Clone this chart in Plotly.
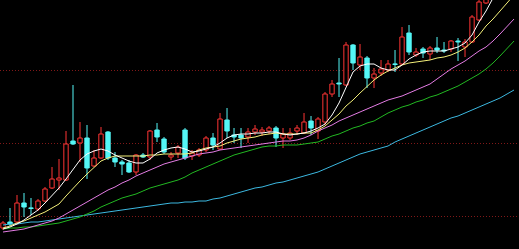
import plotly.graph_objects as go

# ---- candle data (index = trading day) ----
opens  = [21,27,27,46,41,40,48,61,69,69, 108,106,111,83,91,117,91,87,86,77,
          94,92,119,110,92,96,119,93,94,99, 111,100,129,114,114,112,117,117,118,121,
          111,111,118,116,128,118,127,155,166,164, 204,184,191,171,176,179,185,185,216,194,
          200,195,201,199,200,208,202,207,229,246, 262,277,292,286]
highs  = [28,41,54,56,51,50,62,82,90,118, 164,127,124,99,122,118,97,89,89,95,
          96,119,126,112,97,104,121,99,101,113, 116,136,141,121,121,121,124,122,123,123,
          121,121,124,136,133,132,157,169,191,207, 205,205,193,181,189,189,199,222,224,201,
          202,203,212,207,209,211,210,234,254,269, 284,296,298,305]
lows   = [19,23,26,32,34,38,47,60,59,68, 104,87,70,82,90,89,82,74,76,74,
          91,89,107,95,89,91,89,89,92,97, 99,99,111,106,101,106,114,113,115,102,
          101,109,114,115,114,110,124,152,152,163, 179,179,161,161,173,177,177,184,194,192,
          191,189,196,196,197,188,192,206,228,245, 260,272,280,283]
closes = [26,25,46,42,40.5,48,60,70,71,105, 105,111,81,91,115,91,87,85,77,94,
          92,118,112,97,94,102,91,96,99,111, 104,130,118,112,111,117,120,119,121,111,
          115,116,121,127,121,130,155,165,165,204, 186,192,171,175,180,185,184.5,212,197,197,
          196,201,199,198,208,207,207,232,247,264, 278,290,285,300]

# ---- moving averages ----
ma5  = [20,22,25,29,34,39,46,53,61,70, 79,89,95,98,100,98,94,91,88,86,
        86,90,96,99,101,102,100,97,98,100, 102,106,111,114,115,115,116,116,117,117,
        115,114,115,116,118,121,125,134,146,161, 177,183,185,185,181,179,179,184,190,194,
        197,198,198,198,200,202,206,214,227,238, 251,264,277,289]
ma10 = [21,23,26,28,31,34,37,41,45,53, 61,68,75,82,88,91,93,93,93,93,
        93,94,94,95,95,95,95,96,99,101, 102,103,106,108,110,111,112,114,115,116,
        115,115,115,116,116,119,123,129,135,143, 149,156,163,169,174,178,181,184,186,187,
        188,189,191,192,194,197,201,207,214,223, 230,238,246,254]
ma20 = [17,18,19,20,22,24,26,28,31,35, 39,43,47,51,55,59,62,66,69,73,
        76,79,82,85,87,89,91,93,95,96, 97,99,100,101,102,103,104,105,106,107,
        108,108,109,111,114,118,121,124,128,131, 134,137,140,143,146,149,151,153,156,159,
        162,165,170,175,180,184,188,193,198,202, 208,215,222,230]
ma30 = [20,21,21,22,22,23,24,25,26,28, 30,32,35,38,42,45,48,51,53,55,
        58,61,63,65,67,69,72,76,79,82, 85,88,91,94,96,98,100,102,103,103,
        104,104,104,105,106,107,110,113,115,118, 121,123,126,128,132,136,139,142,144,147,
        149,152,154,157,160,163,167,171,175,180, 186,193,201,208]
ma60 = [24,25,25,26,27,27,28,29,30,31, 32,33,34,35,36,37,38,39,40,41,
        42,43,44,45,46,46,47,47,48,48, 50,51,53,55,57,59,61,62,64,66,
        67,69,71,73,75,77,80,83,86,89, 92,95,97,99,101,103,107,110,113,116,
        119,122,125,128,131,133,136,139,142,145, 148,151,155,159]

grid_levels = [33, 106, 179]

UP = "#ff3434"
DOWN = "#54f6f6"

n = len(opens)
days = list(range(n))

fig = go.Figure()

for is_up, col in [(True, UP), (False, DOWN)]:
    idx = [i for i in days if (closes[i] >= opens[i]) == is_up]
    base = [min(opens[i], closes[i]) for i in idx]
    hgt = [max(abs(closes[i] - opens[i]), 0.6) for i in idx]
    fig.add_trace(go.Bar(
        x=idx, y=hgt, base=base, width=0.62,
        marker=dict(color="#000000" if is_up else col, line=dict(color=col, width=1)),
        hoverinfo="skip"))
    wx, wy = [], []
    for i in idx:
        top = max(opens[i], closes[i]); bot = min(opens[i], closes[i])
        wx += [i, i, None, i, i, None]
        wy += [highs[i], top, None, bot, lows[i], None]
    fig.add_trace(go.Scatter(x=wx, y=wy, mode="lines",
                             line=dict(color=col, width=1), hoverinfo="skip"))

for vals, col in [(ma60, "#3cb8e0"), (ma30, "#22b822"), (ma20, "#e47ce4"),
                  (ma10, "#f4f07a"), (ma5, "#ffffff")]:
    fig.add_trace(go.Scatter(x=days, y=vals, mode="lines",
                             line=dict(color=col, width=1), hoverinfo="skip"))

fig.update_layout(
    width=519, height=249,
    margin=dict(l=0, r=0, t=0, b=0),
    paper_bgcolor="#000000", plot_bgcolor="#000000",
    showlegend=False, barmode="overlay",
    xaxis=dict(range=[-0.43, 73.71], showgrid=False, zeroline=False,
               showticklabels=False, ticks="", showline=False, fixedrange=True),
    yaxis=dict(range=[0, 249], tickvals=grid_levels, showticklabels=False,
               showgrid=True, gridcolor="#801818", griddash="1px,2px", gridwidth=1,
               zeroline=False, showline=False, ticks="", fixedrange=True),
)

fig.write_html("out.html")
